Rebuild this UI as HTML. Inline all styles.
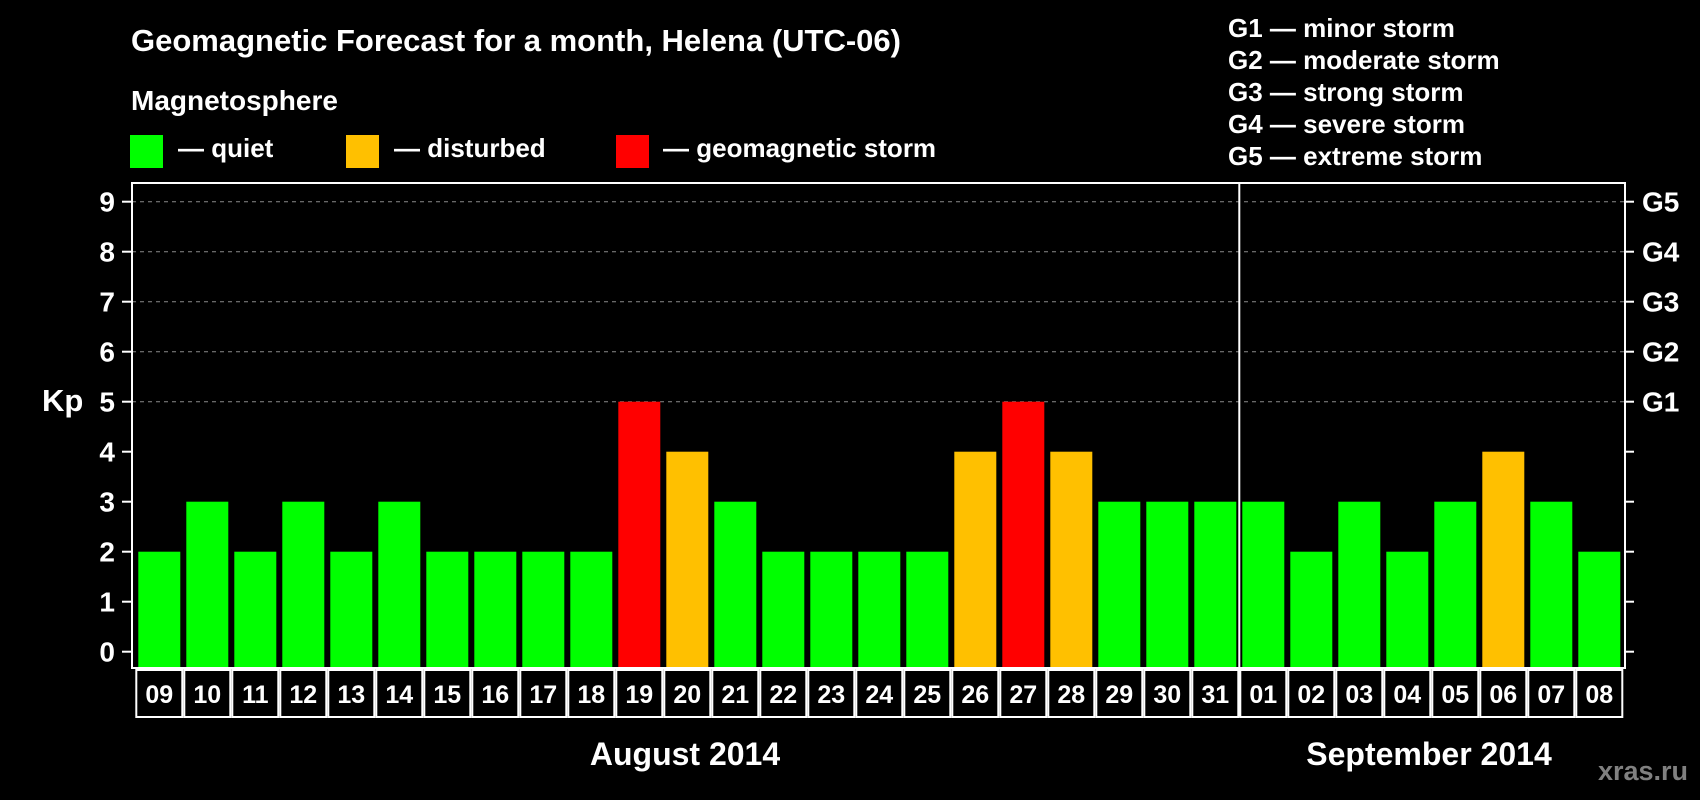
<!DOCTYPE html>
<html><head><meta charset="utf-8"><style>
html,body{margin:0;padding:0;background:#000;}
svg{display:block;font-family:"Liberation Sans",Arial,sans-serif;font-weight:bold;}
</style></head><body>
<svg id="chart" width="1700" height="800" viewBox="0 0 1700 800">
<rect x="0" y="0" width="1700" height="800" fill="#000"/>
<text x="131" y="51" fill="#fff" font-size="31">Geomagnetic Forecast for a month, Helena (UTC-06)</text>
<text x="131" y="110" fill="#fff" font-size="28">Magnetosphere</text>
<g><rect x="130" y="135" width="33" height="33" fill="#00ff00"/><text x="178" y="157" fill="#fff" font-size="26">— quiet</text></g>
<g><rect x="346" y="135" width="33" height="33" fill="#ffc000"/><text x="394" y="157" fill="#fff" font-size="26">— disturbed</text></g>
<g><rect x="616" y="135" width="33" height="33" fill="#ff0000"/><text x="663" y="157" fill="#fff" font-size="26">— geomagnetic storm</text></g>
<g fill="#fff" font-size="26">
<text x="1228" y="37">G1 — minor storm</text>
<text x="1228" y="69">G2 — moderate storm</text>
<text x="1228" y="101">G3 — strong storm</text>
<text x="1228" y="133">G4 — severe storm</text>
<text x="1228" y="165">G5 — extreme storm</text>
</g>
<text x="42" y="411" fill="#fff" font-size="31">Kp</text>
<g id="grid"></g>
<g id="bars"></g>
<g id="axes"></g>
<text x="685" y="765" fill="#fff" font-size="32" text-anchor="middle">August 2014</text>
<text x="1429" y="765" fill="#fff" font-size="32" text-anchor="middle">September 2014</text>
<text x="1688" y="780" fill="#808080" font-size="27" text-anchor="end">xras.ru</text>
</svg>
<script>
const days = ["09","10","11","12","13","14","15","16","17","18","19","20","21","22","23","24","25","26","27","28","29","30","31","01","02","03","04","05","06","07","08"];
const kpValues = [2,3,2,3,2,3,2,2,2,2,5,4,3,2,2,2,2,4,5,4,3,3,3,3,2,3,2,3,4,3,2];
const yTicks = [0,1,2,3,4,5,6,7,8,9];
const gLabels = ["G1","G2","G3","G4","G5"];
const gLevels = [5,6,7,8,9];
const monthBreakIndex = 23;

const NS = "http://www.w3.org/2000/svg";
const plotLeft = 132, plotRight = 1625, plotTop = 183, plotBottom = 668;
const slotX0 = 135.3, slotW = 48;
function yScale(v){ return 651.7 - v * 50; }
function xSlot(i){ return slotX0 + i * slotW; }
function mk(tag, attrs, parent){ const e = document.createElementNS(NS, tag); for (const k in attrs) e.setAttribute(k, attrs[k]); parent.appendChild(e); return e; }
function colorFor(v){ return v >= 5 ? "#ff0000" : (v >= 4 ? "#ffc000" : "#00ff00"); }

const gridG = document.getElementById("grid"), barsG = document.getElementById("bars"), axesG = document.getElementById("axes");
yTicks.forEach(t => {
  const y = yScale(t);
  if (t >= 5) {
    const l = mk("line", {x1:plotLeft, x2:plotRight, y1:y, y2:y, stroke:"#8a8a8a", "stroke-width":1, "stroke-dasharray":"4,4"}, gridG);
    
    
  }
  const tk = mk("line", {x1:plotLeft-10, x2:plotLeft, y1:y, y2:y, stroke:"#fff", "stroke-width":2}, axesG);
  
  
  const tr = mk("line", {x1:plotRight, x2:plotRight+9, y1:y, y2:y, stroke:"#fff", "stroke-width":2}, axesG);
  
  
  const lb = mk("text", {x:115, y:y+10, fill:"#fff", "font-size":28, "text-anchor":"end"}, axesG);
  lb.textContent = t;
  
  
});
gLabels.forEach((g, i) => {
  const lb = mk("text", {x:1642, y:yScale(gLevels[i])+10, fill:"#fff", "font-size":28}, axesG);
  lb.textContent = g;
  
  
});
kpValues.forEach((v, i) => {
  const y = yScale(v);
  const r = mk("rect", {x:xSlot(i)+3, y:y, width:42, height:plotBottom-y, fill:colorFor(v)}, barsG);
  
  
  const c = mk("rect", {x:xSlot(i)+1, y:670, width:slotW-2, height:47, fill:"#000", stroke:"#fff", "stroke-width":2}, axesG);
  
  
  const t = mk("text", {x:xSlot(i)+slotW/2, y:703, fill:"#fff", "font-size":25, "text-anchor":"middle"}, axesG);
  t.textContent = days[i];
  
  
});
const box = mk("rect", {x:plotLeft, y:plotTop, width:plotRight-plotLeft, height:plotBottom-plotTop, fill:"none", stroke:"#fff", "stroke-width":2}, axesG);


const sep = mk("line", {x1:xSlot(monthBreakIndex), x2:xSlot(monthBreakIndex), y1:plotTop, y2:717, stroke:"#fff", "stroke-width":2}, axesG);


</script>
</body></html>
